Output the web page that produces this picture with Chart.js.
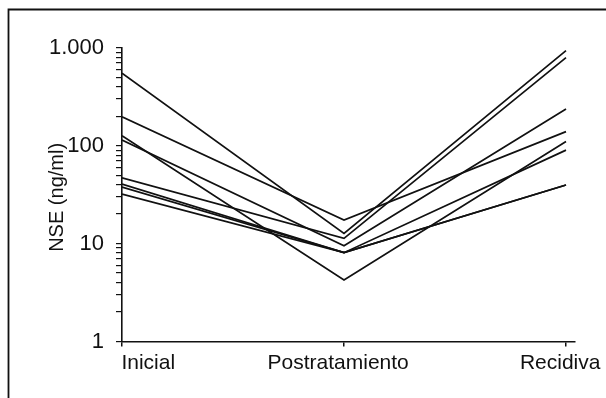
<!DOCTYPE html>
<html><head><meta charset="utf-8">
<style>html,body{margin:0;padding:0;background:#fff}#wrap{width:606px;height:398px;position:relative}canvas{display:block}</style>
<script src="https://cdn.jsdelivr.net/npm/chart.js@4.4.0/dist/chart.umd.min.js"></script>
</head><body><div id="wrap"><canvas id="c" width="606" height="398"></canvas></div>
<script>
// Categories (x axis)
const categories = ["Inicial", "Postratamiento", "Recidiva"];
// Y tick labels (log scale, Spanish thousands separator)
const yTickValues = [1, 10, 100, 1000];
const yTickLabels = ["1", "10", "100", "1.000"];
const yAxisTitle = "NSE (ng/ml)";
// Individual patient series: [Inicial, Postratamiento, Recidiva]
const patient1 = [548, 12.7, 932];
const patient2 = [197.5, 17.4, 139];
const patient3 = [126, 4.25, 110];
const patient4 = [114, 9.5, 237];
const patient5 = [47, 11.3, 791];
const patient6 = [40.4, 8.07, 90];
const patient7 = [37.8, 8.07, 39.6];
const patient8 = [32, 8.07, 39.6];
const patients = [patient1, patient2, patient3, patient4, patient5, patient6, patient7, patient8];

const FONT = "'Liberation Sans', Arial, Helvetica, sans-serif";
// label placement in the original: first label starts at the axis, others nudged left
const xLabelText = ["         " + categories[0], categories[1] + "  ", categories[2] + "  "];

const framePlugin = {
  id: 'frame',
  beforeDraw(chart) {
    const ctx = chart.ctx;
    ctx.save();
    ctx.fillStyle = '#fff';
    ctx.fillRect(0, 0, chart.width, chart.height);
    ctx.strokeStyle = '#111';
    ctx.lineWidth = 1.8;
    ctx.beginPath();
    ctx.moveTo(8.5, 398);
    ctx.lineTo(8.5, 9.5);
    ctx.lineTo(606, 9.5);
    ctx.stroke();
    ctx.restore();
  }
};

new Chart(document.getElementById('c'), {
  type: 'line',
  data: {
    datasets: patients.map((p, k) => ({
      label: 'P' + (k + 1),
      data: p.map((v, i) => ({ x: i, y: v })),
      borderColor: '#111',
      borderWidth: 1.7,
      pointRadius: 0,
      tension: 0,
      fill: false
    }))
  },
  options: {
    responsive: false,
    animation: false,
    devicePixelRatio: 1,
    layout: { padding: { top: 47.7, right: 31, bottom: 0, left: 0 } },
    plugins: { legend: { display: false }, tooltip: { enabled: false } },
    scales: {
      x: {
        type: 'linear',
        min: 0,
        max: 2.0405,
        afterBuildTicks: (scale) => { scale.ticks = categories.map((c, i) => ({ value: i })); },
        afterFit: (scale) => { scale.height = 398 - 341.5; scale.paddingLeft = 0; scale.paddingRight = 0; },
        ticks: {
          autoSkip: false,
          maxRotation: 0,
          padding: 4,
          color: '#111',
          font: { family: FONT, size: 21 },
          callback: (v) => xLabelText[v] !== undefined ? xLabelText[v] : ''
        },
        grid: { drawOnChartArea: false, tickLength: 5, color: '#111', lineWidth: 1.5 },
        border: { color: '#111', width: 1.6 }
      },
      y: {
        type: 'logarithmic',
        min: 1,
        max: 1000,
        afterBuildTicks: (scale) => {
          const t = [];
          for (let d = 1; d < 1000; d *= 10) {
            for (let m = 1; m < 10; m++) t.push({ value: m * d, major: m === 1 });
          }
          t.push({ value: 1000, major: true });
          scale.ticks = t;
        },
        afterFit: (scale) => { scale.width = 122; },
        ticks: {
          autoSkip: false,
          padding: 12,
          color: '#111',
          font: { family: FONT, size: 22 },
          callback: (v) => { const i = yTickValues.indexOf(v); return i >= 0 ? yTickLabels[i] : ''; }
        },
        grid: { drawOnChartArea: false, tickLength: 6, color: '#111', lineWidth: 1.2 },
        border: { color: '#111', width: 1.6 },
        title: {
          display: true,
          text: yAxisTitle + " ",
          color: '#111',
          font: { family: FONT, size: 20 },
          padding: { top: 45, bottom: 0 }
        }
      }
    }
  },
  plugins: [framePlugin]
});
</script>
</body></html>
